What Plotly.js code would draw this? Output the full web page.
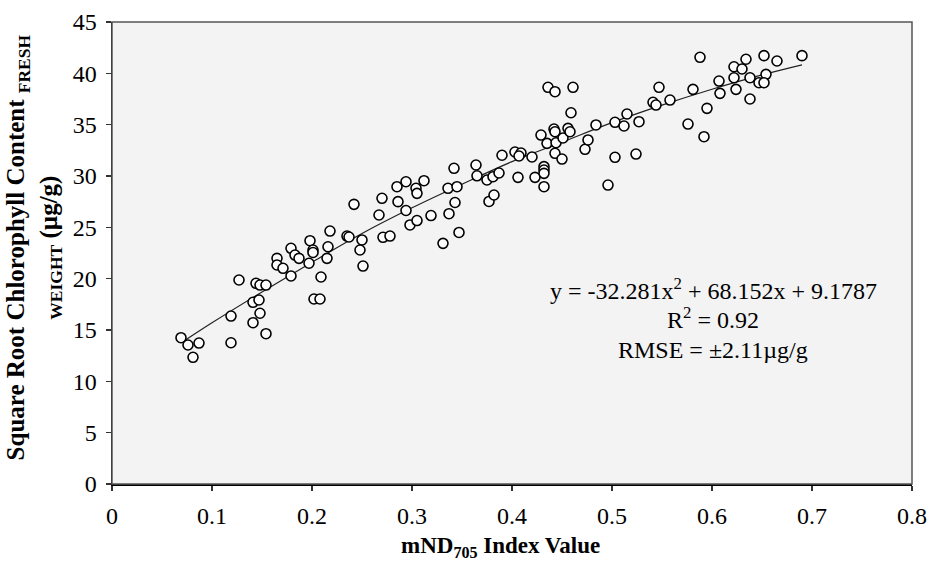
<!DOCTYPE html>
<html>
<head>
<meta charset="utf-8">
<script src="https://cdn.plot.ly/plotly-3.0.1.min.js"></script>
<style>
  html, body { margin: 0; padding: 0; background: #ffffff; }
  #chart { width: 933px; height: 562px; }
</style>
</head>
<body>
<div id="chart"></div>
<script>
// mND705 index values (x) of the sampled leaves
const mndIndex = [
  0.069, 0.076, 0.087, 0.081, 0.119, 0.119, 0.127, 0.144, 0.148, 0.154,
  0.141, 0.147, 0.148, 0.141, 0.154, 0.165, 0.165, 0.171, 0.179, 0.183,
  0.187, 0.179, 0.198, 0.201, 0.201, 0.197, 0.209, 0.202, 0.208, 0.218,
  0.216, 0.215, 0.235, 0.237, 0.242, 0.250, 0.248, 0.251, 0.267, 0.270,
  0.271, 0.278, 0.286, 0.285, 0.294, 0.304, 0.305, 0.312, 0.294, 0.298,
  0.305, 0.319, 0.331, 0.347, 0.337, 0.343, 0.336, 0.345, 0.342, 0.364,
  0.365, 0.375, 0.381, 0.387, 0.377, 0.382, 0.390, 0.403, 0.409, 0.407,
  0.420, 0.406, 0.423, 0.432, 0.432, 0.432, 0.432, 0.429, 0.435, 0.444,
  0.451, 0.443, 0.450, 0.442, 0.443, 0.456, 0.458, 0.459, 0.436, 0.443,
  0.461, 0.473, 0.476, 0.484, 0.503, 0.503, 0.524, 0.496, 0.515, 0.512,
  0.527, 0.547, 0.541, 0.544, 0.558, 0.581, 0.595, 0.576, 0.592, 0.588,
  0.634, 0.652, 0.665, 0.690, 0.622, 0.630, 0.622, 0.607, 0.638, 0.654,
  0.647, 0.652, 0.624, 0.608, 0.638
];
// square root chlorophyll content, fresh weight (µg/g)
const sqrtChlorophyll = [
  14.25, 13.54, 13.73, 12.34, 16.36, 13.76, 19.87, 19.55, 19.38, 19.38,
  17.70, 17.92, 16.63, 15.71, 14.64, 21.98, 21.33, 21.01, 22.96, 22.30,
  21.98, 20.26, 23.70, 22.79, 22.55, 21.50, 20.16, 18.02, 18.02, 24.64,
  23.11, 21.98, 24.15, 24.06, 27.24, 23.77, 22.79, 21.23, 26.20, 27.83,
  24.03, 24.15, 27.50, 28.96, 29.44, 28.80, 28.31, 29.54, 26.64, 25.23,
  25.66, 26.15, 23.44, 24.50, 26.33, 27.42, 28.80, 28.96, 30.75, 31.07,
  30.02, 29.61, 29.93, 30.29, 27.52, 28.15, 32.02, 32.34, 32.24, 31.95,
  31.85, 29.87, 29.87, 30.91, 30.58, 30.26, 28.96, 33.99, 33.18, 33.24,
  33.70, 32.21, 31.65, 34.58, 34.31, 34.64, 34.31, 36.16, 38.64, 38.21,
  38.64, 32.60, 33.51, 34.97, 35.23, 31.82, 32.14, 29.12, 36.04, 34.87,
  35.29, 38.64, 37.18, 36.91, 37.40, 38.44, 36.59, 35.06, 33.83, 41.56,
  41.37, 41.72, 41.20, 41.72, 40.64, 40.42, 39.57, 39.25, 39.57, 39.90,
  39.09, 39.09, 38.44, 38.05, 37.50
];
// fitted trend line
const trendX = [0.070, 0.100, 0.150, 0.200, 0.250, 0.300, 0.350, 0.400, 0.450, 0.500, 0.550, 0.600, 0.650, 0.690];
const trendY = [13.8, 15.7, 18.7, 21.6, 24.4, 26.9, 29.2, 31.4, 33.3, 35.2, 36.9, 38.45, 39.85, 40.83];

const xTicks = [0, 0.1, 0.2, 0.3, 0.4, 0.5, 0.6, 0.7, 0.8];
const yTicks = [0, 5, 10, 15, 20, 25, 30, 35, 40, 45];

const equationLines = [
  'y = -32.281x<sup>2</sup> + 68.152x + 9.1787',
  'R<sup>2</sup> = 0.92',
  'RMSE = ±2.11µg/g'
];

const serif = 'Liberation Serif, Times New Roman, serif';

const traces = [
  {
    x: trendX, y: trendY, type: 'scatter', mode: 'lines',
    line: { color: '#222222', width: 1.2, shape: 'spline' },
    hoverinfo: 'skip', showlegend: false
  },
  {
    x: mndIndex, y: sqrtChlorophyll, type: 'scatter', mode: 'markers',
    marker: { symbol: 'circle', size: 10, color: '#fbfbfb', line: { color: '#000000', width: 1.6 } },
    showlegend: false
  }
];

const annotations = [
  { text: equationLines[0], xref: 'x', yref: 'y', x: 0.601, y: 19.0, showarrow: false, xanchor: 'center', yanchor: 'middle',
    font: { family: serif, size: 24, color: '#000' } },
  { text: equationLines[1], xref: 'x', yref: 'y', x: 0.601, y: 16.2, showarrow: false, xanchor: 'center', yanchor: 'middle',
    font: { family: serif, size: 24, color: '#000' } },
  { text: equationLines[2], xref: 'x', yref: 'y', x: 0.601, y: 13.1, showarrow: false, xanchor: 'center', yanchor: 'middle',
    font: { family: serif, size: 24, color: '#000' } },
  { text: '<b>mND<sub>705</sub> Index Value</b>', xref: 'paper', yref: 'paper', x: 0.485, y: -0.136,
    showarrow: false, xanchor: 'center', yanchor: 'middle', font: { family: serif, size: 23, color: '#000' } },
  { text: '<b>Square Root Chlorophyll Content <sub>FRESH</sub></b><br><b><sub>WEIGHT</sub> (µg/g)</b>',
    xref: 'paper', yref: 'paper', x: -0.097, y: 0.513, textangle: -90,
    showarrow: false, xanchor: 'center', yanchor: 'middle', align: 'center',
    font: { family: serif, size: 25, color: '#000' } }
];

const layout = {
  width: 933, height: 562,
  margin: { l: 112, r: 21, t: 22, b: 78, pad: 0 },
  paper_bgcolor: '#ffffff',
  plot_bgcolor: '#f3f3f3',
  showlegend: false,
  xaxis: {
    range: [0, 0.8], autorange: false, tickvals: xTicks,
    showgrid: false, zeroline: false,
    showline: true, linecolor: '#000', linewidth: 1.5,
    ticks: 'outside', ticklen: 5, tickcolor: '#333', tickwidth: 1.2,
    ticklabelstandoff: 5,
    tickfont: { family: serif, size: 24, color: '#000' }
  },
  yaxis: {
    range: [0, 45], autorange: false, tickvals: yTicks,
    showgrid: false, zeroline: false,
    showline: true, linecolor: '#000', linewidth: 1.5,
    ticks: 'outside', ticklen: 5, tickcolor: '#333', tickwidth: 1.2,
    ticklabelstandoff: 4,
    tickfont: { family: serif, size: 24, color: '#000' }
  },
  shapes: [
    { type: 'rect', xref: 'paper', yref: 'paper', x0: 0, x1: 1, y0: 0, y1: 1,
      line: { color: '#555555', width: 1.5 }, fillcolor: 'rgba(0,0,0,0)', layer: 'above' }
  ],
  annotations: annotations
};

Plotly.newPlot('chart', traces, layout, { displayModeBar: false, staticPlot: true });
</script>
</body>
</html>
